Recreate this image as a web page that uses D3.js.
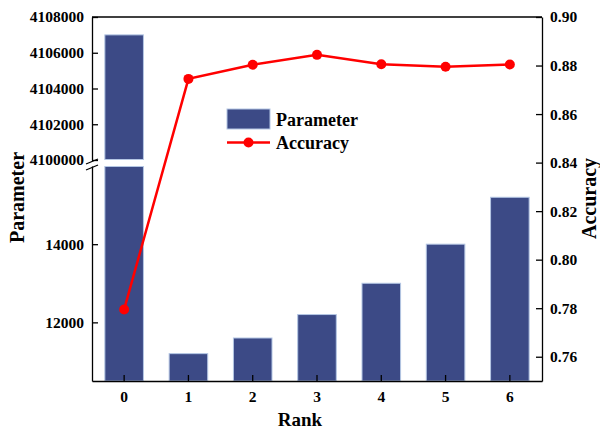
<!DOCTYPE html>
<html>
<head>
<meta charset="utf-8">
<script src="https://cdn.jsdelivr.net/npm/d3@7"></script>
<style>
  html, body { margin: 0; padding: 0; background: #fff; }
  svg { display: block; }
  text { font-family: "Liberation Serif", "Times New Roman", serif; font-weight: bold; fill: #000; }
</style>
</head>
<body>
<svg id="chart" width="600" height="429"></svg>
<script>
// ---- data ----
const ranks = ["0", "1", "2", "3", "4", "5", "6"];
const parameters = [4107000, 11200, 11600, 12200, 13000, 14000, 15200];
const accuracy = [0.7795, 0.8745, 0.8803, 0.8844, 0.8805, 0.8795, 0.8804];
const lowTicks = [12000, 14000];
const highTicks = [4100000, 4102000, 4104000, 4106000, 4108000];
const accTicks = [0.76, 0.78, 0.80, 0.82, 0.84, 0.86, 0.88, 0.90];

// ---- layout ----
const L = 92, R = 542, T = 17, B = 381;
const breakLow = 166, breakHigh = 160;
const svg = d3.select("#chart");
const FONT = "'Liberation Serif', 'Times New Roman', serif";

const x = d3.scaleBand().domain(ranks).range([L, R]).paddingInner(0.4).paddingOuter(0.2);
const yLow = d3.scaleLinear().domain([10500, 16000]).range([B, breakLow]);
const yHigh = d3.scaleLinear().domain([4100000, 4108000]).range([breakHigh, T]);
const yR = d3.scaleLinear().domain([0.75, 0.90]).range([B, T]);

const barFill = "#3c4a86", barStroke = "#b4c6e4";

// bars
const g = svg.append("g");
ranks.forEach((r, i) => {
  const v = parameters[i];
  if (v > yLow.domain()[1]) {
    g.append("rect").attr("x", x(r)).attr("width", x.bandwidth())
      .attr("y", yHigh(v)).attr("height", yHigh(yHigh.domain()[0]) - 0.5 - yHigh(v))
      .attr("fill", barFill).attr("stroke", barStroke).attr("stroke-width", 1);
    g.append("rect").attr("x", x(r)).attr("width", x.bandwidth())
      .attr("y", yLow(yLow.domain()[1]) + 0.5).attr("height", yLow(yLow.domain()[0]) - yLow(yLow.domain()[1]) - 0.5)
      .attr("fill", barFill).attr("stroke", barStroke).attr("stroke-width", 1);
  } else {
    g.append("rect").attr("x", x(r)).attr("width", x.bandwidth())
      .attr("y", yLow(v)).attr("height", yLow(yLow.domain()[0]) - yLow(v))
      .attr("fill", barFill).attr("stroke", barStroke).attr("stroke-width", 1);
  }
});

// frame top line
svg.append("line").attr("x1", L).attr("x2", R).attr("y1", T).attr("y2", T)
  .attr("stroke", "#000").attr("stroke-width", 1.3);

function styleAxis(sel) {
  sel.attr("font-family", FONT).attr("font-size", 15).attr("font-weight", "bold");
  sel.selectAll("path.domain").attr("stroke", "#000").attr("stroke-width", 1.3);
  sel.selectAll(".tick line").attr("stroke", "#000").attr("stroke-width", 1.3);
  sel.selectAll(".tick text").attr("font-family", FONT).attr("font-size", 15)
    .style("font-family", FONT).style("font-size", "15.5px").style("font-weight", "bold").attr("fill", "#000");
}

// left axis: upper
const axHigh = svg.append("g").attr("transform", `translate(${L},0)`)
  .call(d3.axisLeft(yHigh).tickValues(highTicks).tickSize(-6).tickSizeOuter(0).tickPadding(8).tickFormat(d3.format("d")));
styleAxis(axHigh);
// left axis: lower
const axLow = svg.append("g").attr("transform", `translate(${L},0)`)
  .call(d3.axisLeft(yLow).tickValues(lowTicks).tickSize(-6).tickSizeOuter(0).tickPadding(8).tickFormat(d3.format("d")));
styleAxis(axLow);

// break marks
[0, 6].forEach(dy => {
  svg.append("line").attr("x1", L - 6).attr("y1", 164 + dy).attr("x2", L + 6).attr("y2", 159 + dy)
    .attr("stroke", "#000").attr("stroke-width", 1.3);
});

// bottom axis
const axX = svg.append("g").attr("transform", `translate(0,${B})`)
  .call(d3.axisBottom(x).tickSize(-6).tickSizeOuter(0).tickPadding(10));
styleAxis(axX);

// right axis
const axR = svg.append("g").attr("transform", `translate(${R},0)`)
  .call(d3.axisRight(yR).tickValues(accTicks).tickSize(-6).tickSizeOuter(0).tickPadding(8).tickFormat(d3.format(".2f")));
styleAxis(axR);

// accuracy line
const red = "#ff0000";
const cx = (d, i) => x(ranks[i]) + x.bandwidth() / 2;
const line = d3.line().x(cx).y(d => yR(d));
svg.append("path").datum(accuracy).attr("d", line).attr("fill", "none")
  .attr("stroke", red).attr("stroke-width", 2.5);
svg.selectAll("circle.pt").data(accuracy).enter().append("circle").attr("class", "pt")
  .attr("cx", cx).attr("cy", d => yR(d)).attr("r", 5).attr("fill", red);

// axis titles
svg.append("text").attr("x", 300).attr("y", 426).attr("text-anchor", "middle")
  .style("font-size", "19px").text("Rank");
svg.append("text").attr("transform", `translate(24,197.5) rotate(-90)`).attr("text-anchor", "middle")
  .style("font-size", "20px").text("Parameter");
svg.append("text").attr("transform", `translate(596,198.5) rotate(-90)`).attr("text-anchor", "middle")
  .style("font-size", "20px").text("Accuracy");

// legend
const lg = svg.append("g");
lg.append("rect").attr("x", 227).attr("y", 109).attr("width", 43).attr("height", 20)
  .attr("fill", barFill).attr("stroke", barStroke).attr("stroke-width", 1);
lg.append("text").attr("x", 276).attr("y", 125.5).style("font-size", "18px").text("Parameter");
lg.append("line").attr("x1", 227).attr("x2", 270).attr("y1", 142.5).attr("y2", 142.5)
  .attr("stroke", red).attr("stroke-width", 2.5);
lg.append("circle").attr("cx", 248.5).attr("cy", 142.5).attr("r", 5).attr("fill", red);
lg.append("text").attr("x", 276).attr("y", 149).style("font-size", "18px").text("Accuracy");
</script>
</body>
</html>
